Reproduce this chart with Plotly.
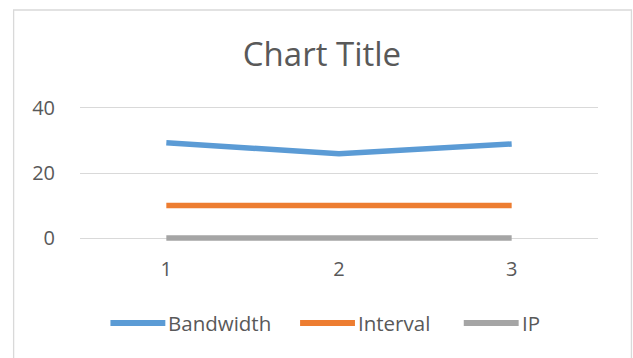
import plotly.graph_objects as go

categories = [1, 2, 3]
bandwidth = [29.3, 25.9, 28.9]
interval = [10, 10, 10]
ip = [0, 0, 0]
y_ticks = [0, 20, 40]

series_names = ["Bandwidth", "Interval", "IP"]
series_values = [bandwidth, interval, ip]
series_colors = ["#5B9BD5", "#ED7D31", "#A5A5A5"]

fig = go.Figure()
for name, vals, color in zip(series_names, series_values, series_colors):
    fig.add_trace(go.Scatter(x=categories, y=vals, mode="lines", name=name,
                             line=dict(color=color, width=5.5), showlegend=False))

font_family = "Open Sans, Liberation Sans, sans-serif"
W, H = 633, 358
fig.update_layout(
    width=W, height=H,
    margin=dict(l=79.5, r=34.5, t=103, b=115),
    paper_bgcolor="white", plot_bgcolor="white",
    title=dict(text="Chart Title", x=322 / W, xref="container", y=1 - 54 / H, yanchor="middle",
               xanchor="center", font=dict(family=font_family, size=33, color="#595959")),
    showlegend=False,
    xaxis=dict(range=[0.5, 3.5], tickvals=categories, ticktext=[str(c) for c in categories],
               showgrid=False, zeroline=False, showline=False, ticks="",
               tickfont=dict(family=font_family, size=20, color="#595959"),
               ticklabelstandoff=12, fixedrange=True),
    yaxis=dict(range=[-1.5, 41.5], tickvals=y_ticks, showgrid=True, gridcolor="#D9D9D9",
               gridwidth=1, zeroline=False, showline=False, ticks="",
               tickfont=dict(family=font_family, size=20, color="#595959"),
               ticklabelstandoff=24, fixedrange=True),
)

# manual legend (positions in pixels converted to paper coords)
def px_x(x):
    return (x - 79.5) / 519

def px_y(y):
    return (243 - y) / 140

legend_line_px = [(110, 165), (300, 355), (464, 519)]
legend_y = 323
for name, color, (x0, x1) in zip(series_names, series_colors, legend_line_px):
    fig.add_shape(type="line", xref="paper", yref="paper",
                  x0=px_x(x0), x1=px_x(x1), y0=px_y(legend_y), y1=px_y(legend_y),
                  line=dict(color=color, width=6))
    fig.add_annotation(text=name, xref="paper", yref="paper", x=px_x(x1 + 1), y=px_y(legend_y),
                       xanchor="left", yanchor="middle", showarrow=False,
                       font=dict(family=font_family, size=20.5, color="#595959"))

fig.add_shape(type="rect", xref="paper", yref="paper",
              x0=px_x(13), x1=px_x(632), y0=px_y(370), y1=px_y(10),
              line=dict(color="#D9D9D9", width=1.3), fillcolor="rgba(0,0,0,0)", layer="below")

fig.write_html("out.html")
